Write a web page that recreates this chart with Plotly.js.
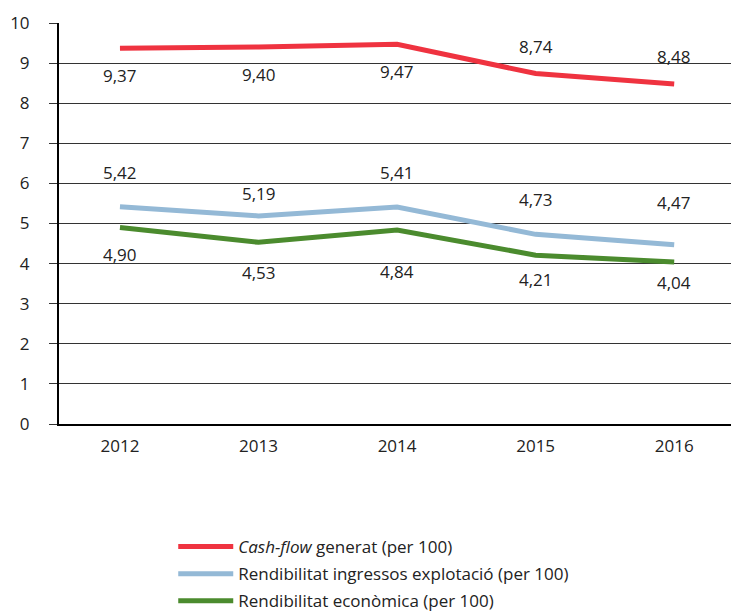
<!DOCTYPE html>
<html><head><meta charset="utf-8">
<script src="https://cdn.plot.ly/plotly-3.0.1.min.js"></script>
<style>body{margin:0;padding:0;background:#fff}#c{width:731px;height:615px}</style>
</head><body><div id="c"></div>
<script>
const years = ['2012','2013','2014','2015','2016'];
const cashFlow = [9.37, 9.40, 9.47, 8.74, 8.48];
const rendIngressos = [5.42, 5.19, 5.41, 4.73, 4.47];
const rendEconomica = [4.90, 4.53, 4.84, 4.21, 4.04];
const names = ['<i>Cash-flow</i> generat (per 100)', 'Rendibilitat ingressos explotació (per 100)', 'Rendibilitat econòmica (per 100)'];
const colors = ['#EF3340', '#94B9D6', '#4B8B2E'];
const labelShift = [
  [-27, -27, -27, 27, 27],
  [34, 22, 35, 35, 42],
  [-27, -30, -42, -24, -20]
];
const series = [cashFlow, rendIngressos, rendEconomica];
const fmt = v => v.toFixed(2).replace('.', ',');

const traces = series.map((s, i) => ({
  x: years, y: s, type: 'scatter', mode: 'lines', name: names[i],
  legendgroup: 'g' + i,
  line: {color: colors[i], width: 5}, hoverinfo: 'skip'
}));

const annotations = [];
series.forEach((s, i) => s.forEach((v, j) => annotations.push({
  x: j, y: v, xref: 'x', yref: 'y', text: fmt(v), showarrow: false,
  yshift: labelShift[i][j], font: {size: 17, color: '#222'}
})));

const layout = {
  width: 731, height: 615,
  margin: {l: 59, r: 0, t: 23, b: 191, autoexpand: false},
  paper_bgcolor: '#fff', plot_bgcolor: '#fff',
  font: {family: 'Open Sans, Noto Sans, sans-serif', color: '#222', size: 17},
  showlegend: true,
  legend: {x: 0.17, y: -0.262, xanchor: 'left', yanchor: 'top', font: {size: 17, color: '#222'}, tracegroupgap: 2, itemwidth: 55, bgcolor: 'rgba(0,0,0,0)'},
  xaxis: {type: 'category', range: [-0.44, 4.41], showgrid: false, showline: true, linecolor: '#000', linewidth: 2,
          ticks: '', ticklabelstandoff: 6, tickfont: {size: 17}, zeroline: false, fixedrange: true},
  yaxis: {range: [0, 10], dtick: 1, showgrid: true, gridcolor: '#333', gridwidth: 1, showline: true, linecolor: '#000', linewidth: 2,
          ticks: 'outside', ticklen: 8, tickcolor: '#333', tickwidth: 1, ticklabelstandoff: 16, tickfont: {size: 17}, zeroline: false, fixedrange: true},
  annotations: annotations
};
Plotly.newPlot('c', traces, layout, {displayModeBar: false, staticPlot: true});
</script></body></html>
